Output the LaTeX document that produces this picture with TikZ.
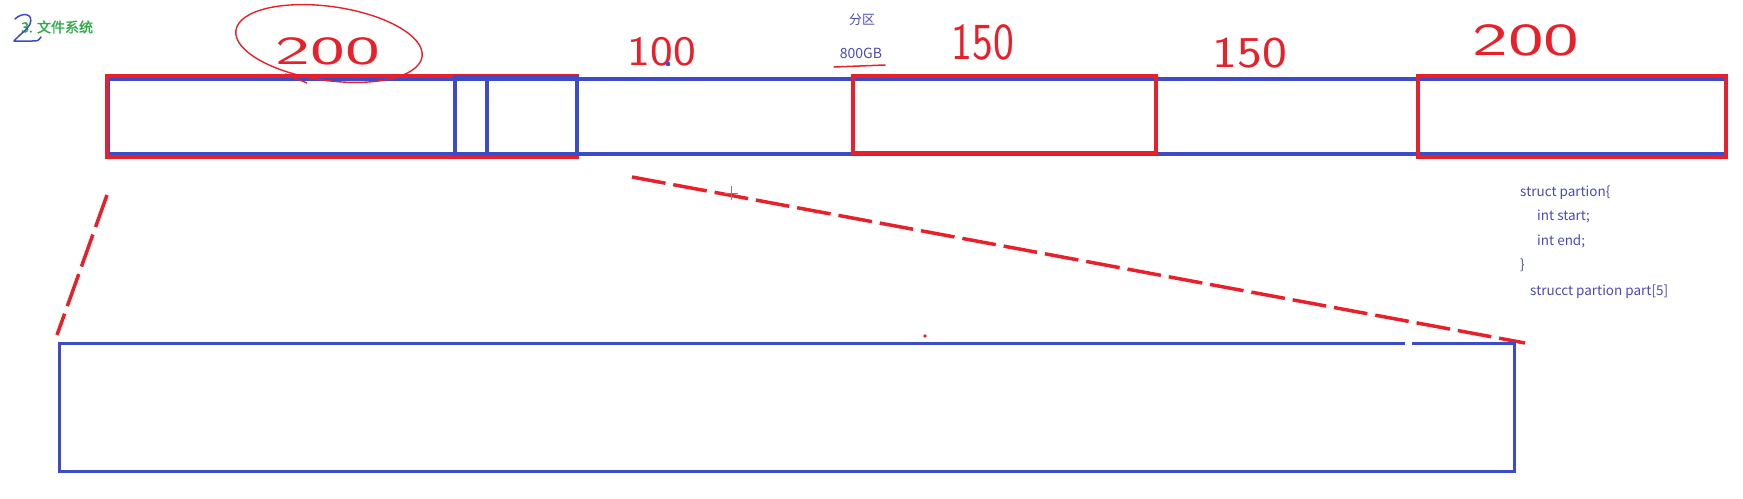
\documentclass[tikz,border=0pt]{standalone}
\usepackage{fontspec}
\newfontfamily\cjk{Noto Sans CJK SC}
\newfontfamily\cjkb[FakeBold=1.6]{Noto Sans CJK SC}
\definecolor{pred}{HTML}{E8202A}
\definecolor{pblue}{HTML}{3C4CC8}
\definecolor{tblue}{HTML}{4A4AB8}
\definecolor{tgreen}{HTML}{2EAA4A}
\begin{document}
\begin{tikzpicture}[x=1pt,y=-1pt,
  redbox/.style={draw=pred,line width=4pt},
  bluebox/.style={draw=pblue,line width=3.2pt},
  thickblue/.style={draw=pblue,line width=4.5pt},
  hand/.style={text=pred,font=\sffamily\fontsize{44}{44}\selectfont,inner sep=0pt},
  dashline/.style={draw=pred,line width=3.5pt,dash pattern=on 34pt off 8pt},
  code/.style={text=tblue,font=\cjk\fontsize{13.5}{15}\selectfont,anchor=west,inner sep=0pt},
  label/.style={text=tblue,font=\cjk\fontsize{13}{15}\selectfont,inner sep=0pt}]
\useasboundingbox (0,0) rectangle (1743,498);

% title
\node[text=tgreen,font=\cjkb\fontsize{14}{16}\selectfont,anchor=west,inner sep=0pt] (title) at (21,27) {3. 文件系统};
\draw[pblue,line width=1.5pt,line cap=round,line join=round] (15,19) .. controls (22,12) and (34,13) .. (30,24) .. controls (27,30) and (18,36) .. (14,41) -- (32,41) .. controls (38,41) .. (41,37);

% top bar
\draw[bluebox] (108,79) rectangle (1726,154);
\draw[redbox] (107,76) rectangle (577,156.5);
\draw[redbox] (853,76) rectangle (1156,153);
\draw[redbox] (1418,76) rectangle (1726,156.5);
\draw[thickblue] (455,77) rectangle (577,154);
\draw[thickblue] (487,77) -- (487,154);

% labels
\node[label] (fenqu) at (862,20) {分区};
\node[label,font=\cjk\fontsize{14}{16}\selectfont] (size) at (861,53) {800GB};
\draw[pred,line width=1.5pt,line cap=round] (834,67) -- (885,65);

% handwritten sizes
\node[hand,font=\sffamily\fontsize{40}{40}\selectfont,xscale=1.85] (h1) at (328,51) {200};
\draw[pred,line width=1.4pt,rotate around={-8:(329,43.5)}] (329,43.5) ellipse [x radius=94, y radius=37];
\draw[pred,line width=1.4pt] (285,74) -- (307,83);
\node[hand,font=\sffamily\fontsize{42}{42}\selectfont,xscale=1.15] (h2) at (662,52) {100};
\fill[pblue] (668,64) circle (2.3);
\node[hand,font=\sffamily\fontsize{52}{52}\selectfont,xscale=0.85] (h3) at (983,42) {150};
\node[hand,font=\sffamily\fontsize{44}{44}\selectfont,xscale=1.2] (h4) at (1250,53) {150};
\node[hand,font=\sffamily\fontsize{46}{46}\selectfont,xscale=1.65] (h5) at (1526,40) {200};

% struct code
\node[code] (c1) at (1520,193) {struct partion\{};
\node[code] (c2) at (1537,217) {int start;};
\node[code] (c3) at (1537,241) {int end;};
\node[code] (c4) at (1520,265) {\}};
\node[code] (c5) at (1530,292) {strucct partion part[5]};

% zoom lines
\coordinate (la) at (107,195);
\coordinate (lb) at (57,335);
\coordinate (ra) at (632,177);
\coordinate (rb) at (1525,343);
\draw[dashline] (la) -- (lb);
\draw[dashline] (ra) -- (rb);
\draw[gray,line width=1pt] (724,193) -- (738,193) (731,186) -- (731,200);

% bottom box
\draw[pblue,line width=3pt] (1412,343) -- (1514,343) -- (1514,471) -- (59,471) -- (59,343) -- (1405,343);
\fill[pred] (925,336) circle (1.8);
\end{tikzpicture}
\end{document}
